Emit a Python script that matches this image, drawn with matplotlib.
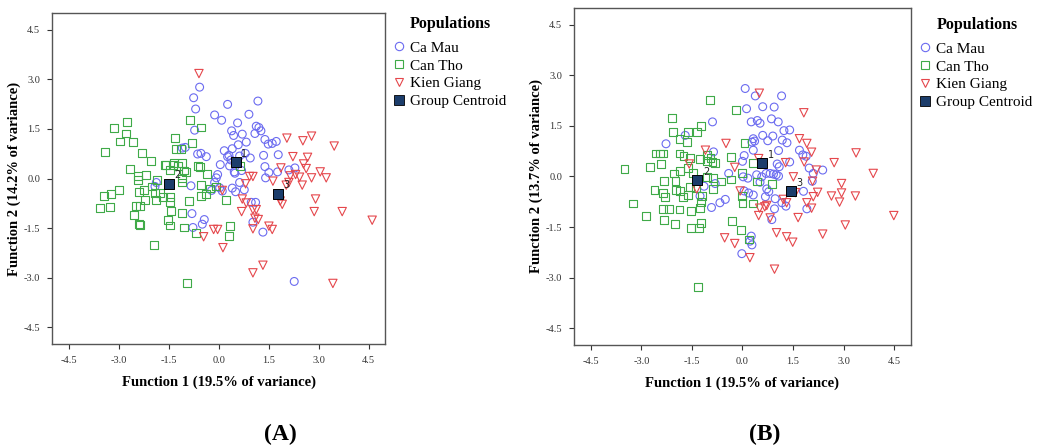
import matplotlib
matplotlib.use("Agg")
import matplotlib.pyplot as plt
from matplotlib.lines import Line2D

# ---------------- Panel A data ----------------
a_camau_x = [-0.57, -0.75, -0.69, 0.27, 1.18, -0.12, 0.09, 0.91, -0.72, 0.57, 0.39, 0.45, 0.71, 1.13, 1.21,
             1.27, 1.09, 0.83, 1.39, 1.49, 1.61, 1.73, 0.59, 0.41, 0.17, 0.31, 0.27, 0.37, 0.63, 0.80,
             0.95, 1.35, 1.79, -0.63, -0.53, -0.37, -1.09, -1.00, 0.05, 0.33, 0.47, 0.49, 0.69, 1.39,
             1.51, 1.77, 2.11, 2.29, 1.41, -0.03, -0.07, -0.12, 0.03, -0.21, 0.11, 0.63, 0.77, 0.51,
             -0.83, -1.87, -1.91, 0.98, 1.11, -0.80, -0.43, -0.77, -0.49, 1.03, 1.33, 2.27, 0.41]
a_camau_y = [2.76, 2.44, 2.10, 2.24, 2.34, 1.92, 1.76, 1.94, 1.46, 1.68, 1.44, 1.30, 1.34, 1.58, 1.54,
             1.44, 1.36, 1.10, 1.18, 1.04, 1.06, 1.12, 1.02, 0.90, 0.84, 0.70, 0.66, 0.56, 0.68, 0.76,
             0.62, 0.70, 0.72, 0.74, 0.76, 0.66, 0.92, 0.94, 0.42, 0.38, 0.20, 0.16, 0.24, 0.36,
             0.18, 0.20, 0.26, 0.32, 0.02, 0.12, 0.02, -0.12, -0.28, -0.36, -0.38, -0.12, -0.34, -0.40,
             -0.22, -0.12, -0.24, -0.72, -0.72, -1.06, -1.24, -1.48, -1.38, -1.32, -1.62, -3.11, -0.29]

a_cantho_x = [-3.15, -2.75, -2.77, -2.97, -2.57, -3.41, -2.31, -2.03, -2.67, -2.43, -2.43, -2.19, -2.99,
              -3.23, -3.45, -3.57, -3.27, -2.39, -2.25, -2.21, -2.47, -2.37, -2.55, -2.37, -2.39, -1.95,
              -2.01, -1.91, -1.89, -1.85, -1.67, -1.77, -1.61, -1.57, -1.47, -1.37, -1.31, -1.27, -1.13,
              -1.35, -1.23, -1.09, -1.05, -1.09, -0.97, -1.11, -0.87, -0.53, -0.79, -0.61, -0.57, -0.35,
              -0.53, -0.37, -0.53, -0.27, -0.07, -0.89, -1.09, -1.47, -1.47, -1.43, -1.51, -1.47, -1.05,
              -0.69, 0.35, 0.31, 0.21, -0.95, 0.63]
a_cantho_y = [1.52, 1.70, 1.36, 1.12, 1.10, 0.80, 0.76, 0.54, 0.28, 0.08, -0.04, 0.10, -0.36,
              -0.48, -0.54, -0.90, -0.86, -0.40, -0.36, -0.64, -0.82, -0.84, -1.10, -1.40, -1.38, -2.00,
              -0.24, -0.44, -0.64, -0.04, -0.56, -0.44, 0.42, 0.42, 0.26, 0.40, 1.22, 0.90, 0.90,
              0.46, 0.38, 0.46, 0.24, 0.00, 0.20, -0.12, 1.76, 1.54, 1.08, 0.38, 0.36, 0.14,
              -0.20, -0.48, -0.54, -0.30, -0.24, -0.68, -1.04, -0.56, -0.72, -0.98, -1.26, -1.42, -1.48,
              -1.64, -1.44, -1.74, -0.66, -3.15, 0.38]

a_kien_x = [-0.59, 2.05, 2.53, 2.79, 3.47, 2.23, 2.67, 2.55, 2.63, 1.87, 2.15, 2.31, 2.43, 2.79, 3.05,
            3.23, 1.63, 2.03, 2.11, 2.51, 2.91, 2.87, 3.71, 4.61, 0.93, 1.03, 0.81, 0.71, 0.83, 0.69,
            1.03, 1.13, 1.09, 1.19, 1.03, 1.51, 1.61, 1.85, 1.91, -0.15, -0.03, -0.45, 0.13, 0.11,
            1.03, 1.33, 3.43]
a_kien_y = [3.17, 1.22, 1.14, 1.28, 0.98, 0.66, 0.64, 0.44, 0.30, 0.32, 0.08, 0.12, 0.04, 0.02, 0.20,
            0.02, -0.08, -0.20, -0.12, -0.20, -0.62, -1.00, -1.00, -1.26, 0.06, 0.06, -0.16, -0.62, -0.74,
            -1.00, -0.94, -0.94, -1.20, -1.24, -1.52, -1.44, -1.54, -0.68, -0.78, -1.54, -1.54, -1.76,
            -2.09, -0.36, -2.85, -2.62, -3.17]

a_cent_x = [0.51, -1.50, 1.79]
a_cent_y = [0.49, -0.16, -0.46]

# ---------------- Panel B data ----------------
b_camau_x = [0.08, 0.38, 1.16, 0.12, 0.60, 0.94, -0.89, 0.26, 0.44, 0.52, 0.86, 1.06, 1.23, 1.40, 0.60,
             0.90, 0.75, 0.32, 0.28, 0.36, 1.18, 1.32, 0.32, 1.69, 1.07, 1.79, 1.89, 0.05, 0.00, -1.70,
             -2.27, -0.86, 1.40, 1.03, 1.09, 1.98, 2.38, 2.10, -0.41, 0.02, 0.16, 0.42, 0.57, 0.70,
             0.82, 0.92, 1.00, 1.07, 0.52, 0.72, 0.78, 0.68, 0.05, 0.18, 0.32, -0.51, -0.67, -0.92,
             -1.26, -1.14, -0.81, 0.97, 0.95, 1.29, 1.17, 1.81, 1.91, 2.07, 0.87, 0.26, 0.28, -0.02, 0.22]
b_camau_y = [2.61, 2.39, 2.39, 2.01, 2.07, 2.06, 1.62, 1.62, 1.66, 1.58, 1.71, 1.62, 1.36, 1.38, 1.22,
             1.20, 1.06, 1.12, 1.02, 1.05, 1.08, 1.00, 0.78, 0.78, 0.77, 0.64, 0.60, 0.62, 0.45, 1.22,
             0.97, 0.73, 0.43, 0.37, 0.29, 0.25, 0.19, 0.09, 0.09, -0.01, -0.05, 0.05, -0.01, 0.09,
             0.09, 0.07, 0.05, 0.01, -0.17, -0.37, -0.45, -0.60, -0.43, -0.49, -0.55, -0.68, -0.78, -0.92,
             -0.58, -0.29, -0.21, -0.66, -0.96, -0.88, -0.78, -0.44, -0.96, -0.14, -1.28, -1.77, -2.03, -2.29, -1.92]

b_cantho_x = [-0.96, -0.19, -2.09, -2.07, -1.62, -1.34, -1.22, -1.87, -1.64, 0.06, -2.58, -2.46, -2.35,
              -1.87, -1.75, -1.57, -1.27, -1.05, -0.89, -0.81, -0.33, -2.43, -2.75, -3.50, -1.85, -2.04,
              -2.33, -1.99, -1.62, -1.46, -1.05, -0.87, -0.64, -0.34, -0.02, 0.32, 0.42, 0.87, -2.61,
              -2.37, -2.29, -1.97, -1.85, -1.76, -1.62, -1.56, -1.37, -1.21, -0.87, -3.24, -2.87, -2.35,
              -2.19, -1.87, -1.54, -1.26, -1.22, -2.33, -2.01, -1.52, -1.28, -1.22, -0.31, -0.05, 0.00,
              -0.02, 0.32, -1.32, 0.20, -1.05, -0.95]
b_cantho_y = [2.27, 1.96, 1.73, 1.32, 1.32, 1.32, 1.49, 1.12, 1.02, 1.00, 0.68, 0.68, 0.68,
              0.68, 0.60, 0.56, 0.52, 0.64, 0.43, 0.40, 0.57, 0.36, 0.29, 0.21, 0.15, 0.09,
              -0.14, -0.14, 0.26, 0.11, -0.01, -0.04, -0.15, -0.09, 0.11, 0.41, -0.15, -0.22, -0.41,
              -0.49, -0.62, -0.41, -0.43, -0.60, -0.54, -0.30, -0.33, -0.58, -0.38, -0.80, -1.18, -0.96,
              -0.96, -0.98, -1.02, -0.94, -0.76, -1.30, -1.42, -1.54, -1.54, -1.38, -1.33, -1.58, -0.78,
              -0.58, -0.80, -3.28, -1.87, 0.45, 0.55]

b_kien_x = [0.50, 1.82, 1.69, 1.91, 2.05, -1.10, -0.49, -1.58, -0.23, 0.48, 1.28, 1.83, 2.19, 2.72,
            3.37, 3.88, 2.94, 2.94, 2.64, 2.88, 3.35, 2.23, 2.10, 2.08, 1.51, 1.57, 1.91, 2.05, 1.65,
            1.21, 1.31, 0.51, 0.66, 0.72, 0.48, 0.82, 1.01, 1.31, 1.49, 2.38, 3.05, 4.49, -1.36, -0.07,
            -0.53, -0.23, 0.22, 0.95]
b_kien_y = [2.47, 1.89, 1.12, 0.98, 0.72, 0.78, 0.98, 0.37, 0.27, 0.53, 0.41, 0.43, 0.19, 0.41,
            0.70, 0.09, -0.21, -0.49, -0.58, -0.76, -0.58, -0.47, -0.60, -0.14, -0.01, -0.48, -0.78, -0.94, -1.22,
            -0.68, -0.78, -0.94, -0.90, -0.86, -1.16, -1.23, -1.67, -1.79, -1.95, -1.71, -1.44, -1.16, -0.37, -0.43,
            -1.82, -1.99, -2.41, -2.75]

b_cent_x = [0.59, -1.34, 1.44]
b_cent_y = [0.39, -0.11, -0.44]

centroid_labels = ["1", "2", "3"]
legend_title = "Populations"
legend_labels = ["Ca Mau", "Can Tho", "Kien Giang", "Group Centroid"]
ticks = [-4.5, -3.0, -1.5, 0.0, 1.5, 3.0, 4.5]
tick_labels = ["-4.5", "-3.0", "-1.5", "0.0", "1.5", "3.0", "4.5"]

BLUE = "#6b6bf0"
GREEN = "#3faa48"
RED = "#e5474c"
NAVY = "#1c3d6b"

plt.rcParams["font.family"] = ["Liberation Serif", "DejaVu Serif"]

fig = plt.figure(figsize=(10.41, 4.47), dpi=100)
axA = fig.add_axes([0.050, 0.2304, 0.320, 0.7405])
axB = fig.add_axes([0.5514, 0.2282, 0.3237, 0.754])


def draw(ax, cm, ct, kg, cent, ylabel, panel, panel_x, leg_y, title_xy):
    ax.scatter(cm[0], cm[1], s=32, marker="o", facecolors="none", edgecolors=BLUE, linewidths=0.8, zorder=3)
    ax.scatter(ct[0], ct[1], s=32, marker="s", facecolors="none", edgecolors=GREEN, linewidths=0.8, zorder=3)
    ax.scatter(kg[0], kg[1], s=36, marker="v", facecolors="none", edgecolors=RED, linewidths=0.8, zorder=3)
    ax.scatter(cent[0], cent[1], s=62, marker="s", facecolors=NAVY, edgecolors="black", linewidths=0.7, zorder=5)
    for lbl, cx, cy in zip(centroid_labels, cent[0], cent[1]):
        ax.annotate(lbl, (cx, cy), xytext=(4, 4), textcoords="offset points", fontsize=7,
                    family=["DejaVu Sans"], color="#222222", zorder=6)
    ax.set_xlim(-5, 5)
    ax.set_ylim(-5, 5)
    ax.set_xticks(ticks)
    ax.set_xticklabels(tick_labels)
    ax.set_yticks(ticks)
    ax.set_yticklabels(tick_labels)
    ax.tick_params(direction="out", length=3.5, width=0.8, labelsize=7.5, pad=5, colors="#333333")
    for sp in ax.spines.values():
        sp.set_color("#555555")
        sp.set_linewidth(1.0)
    ax.set_xlabel("Function 1 (19.5% of variance)", fontsize=10.5, fontweight="bold", labelpad=8)
    ax.set_ylabel(ylabel, fontsize=10.5, fontweight="bold", labelpad=2)
    handles = [
        Line2D([], [], marker="o", linestyle="none", markerfacecolor="none", markeredgecolor=BLUE, markersize=6, markeredgewidth=0.8),
        Line2D([], [], marker="s", linestyle="none", markerfacecolor="none", markeredgecolor=GREEN, markersize=5.5, markeredgewidth=0.8),
        Line2D([], [], marker="v", linestyle="none", markerfacecolor="none", markeredgecolor=RED, markersize=6, markeredgewidth=0.8),
        Line2D([], [], marker="s", linestyle="none", markerfacecolor=NAVY, markeredgecolor="black", markersize=7.5, markeredgewidth=0.6),
    ]
    ax.legend(handles, legend_labels, loc="upper left", bbox_to_anchor=(1.024, leg_y),
              frameon=False, fontsize=11, borderpad=0, borderaxespad=0,
              handletextpad=0.3, handlelength=0.8, labelspacing=0.27)
    fig.text(title_xy[0], title_xy[1], legend_title, fontsize=11.5, fontweight="bold",
             ha="center", va="center")
    fig.text(panel_x, 0.015, panel, fontsize=17, fontweight="bold", ha="center", va="baseline")


draw(axA, (a_camau_x, a_camau_y), (a_cantho_x, a_cantho_y), (a_kien_x, a_kien_y),
     (a_cent_x, a_cent_y), "Function 2 (14.2% of variance)", "(A)", 280 / 1041,
     0.915, (450 / 1041, 1 - 24 / 447))
draw(axB, (b_camau_x, b_camau_y), (b_cantho_x, b_cantho_y), (b_kien_x, b_kien_y),
     (b_cent_x, b_cent_y), "Function 2 (13.7% of variance)", "(B)", 765 / 1041,
     0.899, (977 / 1041, 1 - 25 / 447))

fig.savefig("out.png", dpi=100)
